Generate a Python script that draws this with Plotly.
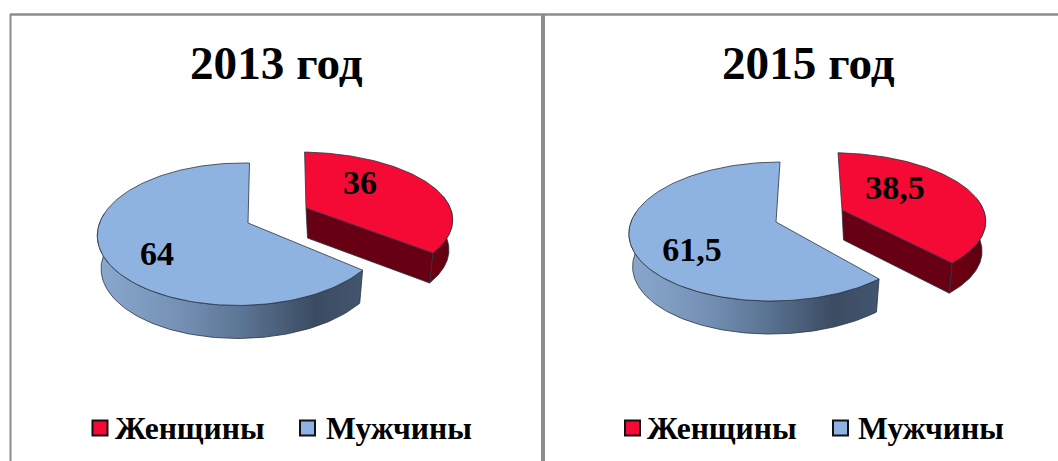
import numpy as np
import plotly.graph_objects as go

# ---- data ----
panel_titles = ["2013 год", "2015 год"]
categories = ["Женщины", "Мужчины"]
women_values = [36, 38.5]
men_values = [64, 61.5]
value_labels_women = ["36", "38,5"]
value_labels_men = ["64", "61,5"]

# ---- styles ----
C_W_TOP = "#f40a35"
C_W_SIDE = "#660012"
C_M_TOP = "#8fb3e0"
C_EDGE = "#2b3440"
C_BORDER = "#8c8c8c"
FONT = "Liberation Serif"
M_GRAD = [[0, "#8aa8cd"], [0.3, "#7592b6"], [0.55, "#5a7493"], [0.82, "#3b4b62"], [1, "#43566f"]]
W_GRAD = [[0, "#70000f"], [1, "#5e0012"]]
SHRINK = 0.975  # lower rim of each slice is a little narrower (perspective)

# ---- projection set-ups for the perspective drawing of each pie ----
views = [
    dict(women=dict(ax=306, ay=208, a=65.6, b=151.5, k=0.172, m=-0.05, s=0.025, d=30),
         men=dict(ax=248, ay=223, a=69.4, b=141, k=0.157, m=-0.05, s=-0.025, d=33),
         title_x=276.5, legend=(100, 115, 307.5, 326),
         wl=(360, 185), ml=(157, 256)),
    dict(women=dict(ax=842, ay=210, a=65.5, b=148.6, k=0.145, m=-0.05, s=0.07, d=30),
         men=dict(ax=776, ay=222, a=68.2, b=145, k=0.137, m=0.0, s=-0.067, d=33),
         title_x=808.5, legend=(632.5, 647, 840.5, 858),
         wl=(895, 190), ml=(692, 252)),
]


def project(theta, r, p):
    X, Y = r * np.sin(theta), -r * np.cos(theta)
    w = 1 / (1 - p["k"] * Y - p["m"] * X)
    return (p["ax"] + p["b"] * X * w + p["s"] * p["a"] * Y * w,
            p["ay"] + p["a"] * Y * w)


def lower(x, p):
    return p["ax"] + (x - p["ax"]) * SHRINK


def poly(fig, x, y, color=None, gradient=None):
    kw = dict(fillgradient=dict(type="horizontal", colorscale=gradient)) if gradient else dict(fillcolor=color)
    fig.add_trace(go.Scatter(x=list(x), y=list(y), mode="lines", fill="toself",
                             line=dict(color=C_EDGE, width=0.8), hoverinfo="skip",
                             showlegend=False, **kw))


def top_face(fig, t0, t1, p, color):
    th = np.linspace(t0, t1, 160)
    ax_, ay_ = project(0.0, 0.0, p)
    x, y = project(th, 1.0, p)
    poly(fig, np.r_[ax_, x, ax_], np.r_[ay_, y, ay_], color=color)


def outer_side(fig, t0, t1, p, gradient):
    th = np.linspace(t0, t1, 120)
    x, y = project(th, 1.0, p)
    poly(fig, np.r_[x, lower(x, p)[::-1], x[0]], np.r_[y, (y + p["d"])[::-1], y[0]], gradient=gradient)


fig = go.Figure()

for i, v in enumerate(views):
    split = 2 * np.pi * women_values[i] / (women_values[i] + men_values[i])
    pw, pm = v["women"], v["men"]

    # women slice: outer wall, radial wall, top
    outer_side(fig, np.radians(80), split, pw, W_GRAD)
    ax_, ay_ = project(0.0, 0.0, pw)
    tx, ty = project(split, 1.0, pw)
    d = pw["d"]
    poly(fig, [ax_, tx, lower(tx, pw), ax_ + 1.5, ax_], [ay_, ty, ty + d, ay_ + d, ay_], color=C_W_SIDE)
    top_face(fig, 0.0, split, pw, C_W_TOP)

    # men slice: outer wall then top
    outer_side(fig, split, np.radians(278), pm, M_GRAD)
    top_face(fig, split, 2 * np.pi, pm, C_M_TOP)

    # value labels
    fig.add_trace(go.Scatter(
        x=[v["wl"][0], v["ml"][0]], y=[v["wl"][1], v["ml"][1]], mode="text",
        text=[f"<b>{value_labels_women[i]}</b>", f"<b>{value_labels_men[i]}</b>"],
        textposition="middle center",
        textfont=dict(family=FONT, size=34, color="black"), hoverinfo="skip", showlegend=False))

    # legend
    lg = v["legend"]
    fig.add_trace(go.Scatter(
        x=[lg[0], lg[2]], y=[428, 428], mode="markers",
        marker=dict(symbol="square", size=15, color=[C_W_TOP, C_M_TOP],
                    line=dict(color="#111111", width=2)),
        hoverinfo="skip", showlegend=False))
    for name, lx in zip(categories, (lg[1], lg[3])):
        fig.add_annotation(x=lx, y=428, text=f"<b>{name}</b>", showarrow=False, xanchor="left",
                           yanchor="middle", xshift=-2,
                           font=dict(family=FONT, size=31.6, color="black"))

    fig.add_annotation(x=v["title_x"], y=63, text=f"<b>{panel_titles[i]}</b>", showarrow=False,
                       xanchor="center", yanchor="middle",
                       font=dict(family=FONT, size=47.2, color="black"))

# frame lines
for x0, y0, x1, y1, wd in [(10, 14.5, 1058, 14.5, 2.5), (10.5, 14, 10.5, 461, 2), (543, 14, 543, 461, 4)]:
    fig.add_shape(type="line", x0=x0, y0=y0, x1=x1, y1=y1, line=dict(color=C_BORDER, width=wd))

fig.update_layout(
    width=1058, height=461, margin=dict(l=0, r=0, t=0, b=0),
    paper_bgcolor="white", plot_bgcolor="white", showlegend=False,
    xaxis=dict(range=[0, 1058], visible=False, fixedrange=True),
    yaxis=dict(range=[461, 0], visible=False, fixedrange=True),
)

fig.write_html("out.html", config=dict(displayModeBar=False),
               post_script="document.body.style.margin='0';document.body.style.overflow='hidden';")
